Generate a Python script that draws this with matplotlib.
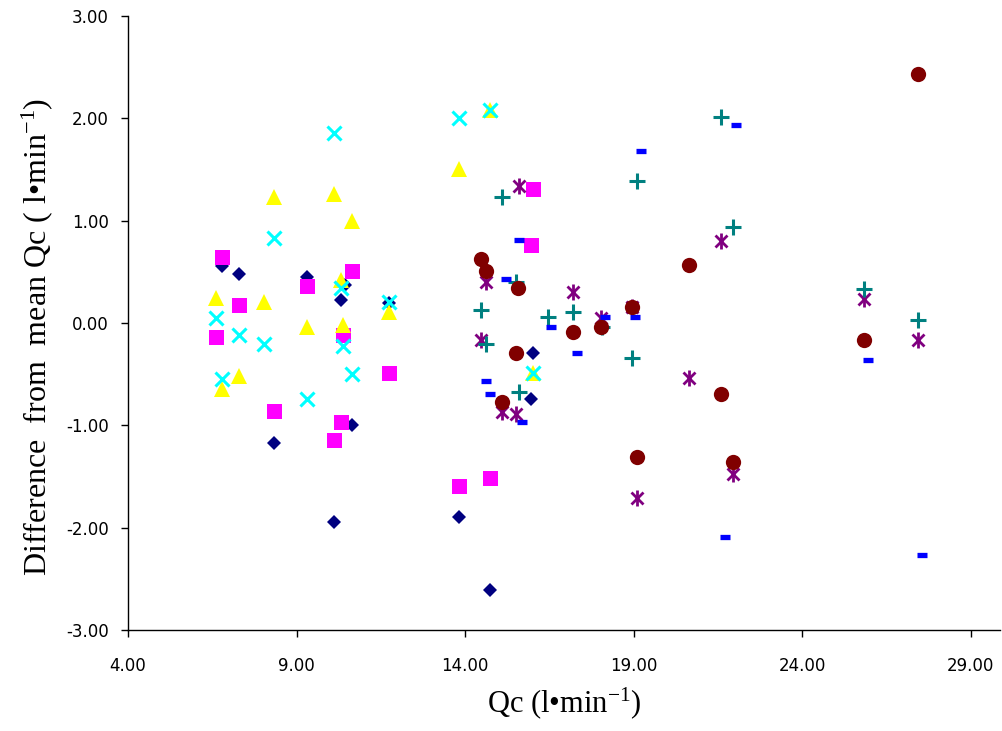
"""Qc difference from mean, scatter by subject group."""

import matplotlib

matplotlib.use("Agg")
import matplotlib.pyplot as plt

plt.rcParams["mathtext.fontset"] = "custom"
plt.rcParams["mathtext.rm"] = "Liberation Serif"
plt.rcParams["mathtext.it"] = "Liberation Serif:italic"

# navy diamonds
dia_x = [6.79, 7.30, 8.34, 9.31, 10.32, 10.45, 11.75, 10.65, 10.10, 13.83, 14.75, 16.02, 15.97]
dia_y = [0.56, 0.48, -1.17, 0.45, 0.23, 0.37, 0.20, -1.00, -1.94, -1.89, -2.61, -0.29, -0.74]

# magenta squares
sq_x = [6.79, 6.61, 7.30, 8.34, 9.31, 10.38, 10.65, 10.10, 10.32, 11.75, 13.83, 14.75, 16.02, 15.97]
sq_y = [0.65, -0.14, 0.18, -0.86, 0.36, -0.12, 0.51, -1.14, -0.97, -0.49, -1.59, -1.51, 1.31, 0.76]

# yellow triangles
tri_x = [6.61, 6.79, 7.30, 8.04, 8.34, 9.31, 10.10, 10.65, 10.32, 10.38, 11.75, 13.83, 14.75, 16.02]
tri_y = [0.25, -0.64, -0.52, 0.21, 1.23, -0.04, 1.26, 1.00, 0.42, -0.02, 0.11, 1.51, 2.08, -0.49]

# cyan crosses
crs_x = [6.61, 6.79, 7.30, 8.04, 8.34, 9.31, 10.10, 10.32, 10.38, 10.65, 11.75, 13.83, 14.75, 16.02]
crs_y = [0.05, -0.55, -0.12, -0.20, 0.83, -0.74, 1.86, 0.34, -0.22, -0.50, 0.21, 2.00, 2.08, -0.49]

# purple asterisks
ast_x = [14.48, 14.63, 15.61, 15.10, 15.52, 17.21, 18.04, 18.94, 19.11, 20.63, 21.58, 21.96, 25.82, 27.43]
ast_y = [-0.17, 0.40, 1.34, -0.87, -0.89, 0.30, 0.05, 0.16, -1.71, -0.54, 0.80, -1.47, 0.24, -0.17]

# teal plus
pls_x = [14.48, 14.63, 15.10, 15.52, 15.61, 16.47, 17.21, 18.07, 18.94, 19.11, 21.58, 21.96, 25.82, 27.43]
pls_y = [0.13, -0.20, 1.23, 0.40, -0.67, 0.06, 0.11, -0.04, -0.34, 1.39, 2.01, 0.94, 0.33, 0.03]

# blue dashes
dsh_x = [14.63, 14.75, 15.22, 15.61, 15.70, 16.56, 17.33, 18.16, 19.05, 19.23, 22.05, 21.70, 25.94, 27.55]
dsh_y = [-0.57, -0.69, 0.43, 0.81, -0.97, -0.04, -0.29, 0.06, 0.06, 1.68, 1.94, -2.09, -0.36, -2.27]

# dark red circles
cir_x = [14.48, 14.63, 15.58, 15.10, 15.52, 17.21, 18.04, 18.94, 19.11, 20.63, 21.58, 21.96, 25.82, 27.43]
cir_y = [0.63, 0.51, 0.34, -0.77, -0.29, -0.09, -0.04, 0.16, -1.31, 0.57, -0.69, -1.36, -0.17, 2.43]

xticks = [4, 9, 14, 19, 24, 29]
yticks = [-3, -2, -1, 0, 1, 2, 3]

fig = plt.figure(figsize=(10.02, 7.31), dpi=100)
ax = fig.add_axes([0.1277, 0.138, 0.870, 0.840])

ax.plot(dia_x, dia_y, "D", color="#000080", ms=7.2, mew=0, ls="none")
ax.plot(sq_x, sq_y, "s", color="#FF00FF", ms=10.8, mew=0, ls="none")
ax.plot(tri_x, tri_y, "^", color="#FFFF00", ms=11, mew=0, ls="none")
ax.plot(crs_x, crs_y, "x", color="#00FFFF", ms=9.5, mew=2.2, ls="none")
ax.plot(ast_x, ast_y, "x", color="#800080", ms=9, mew=2.0, ls="none")
ax.plot(ast_x, ast_y, "|", color="#800080", ms=11, mew=2.0, ls="none")
ax.plot(pls_x, pls_y, "+", color="#008080", ms=11, mew=2.2, ls="none")
ax.plot(dsh_x, dsh_y, "_", color="#0000FF", ms=7.5, mew=3.8, ls="none")
ax.plot(cir_x, cir_y, "o", color="#800000", ms=11, mew=0, ls="none")

ax.set_xlim(4, 29.86)
ax.set_ylim(-3, 3)
ax.set_xticks(xticks)
ax.set_xticklabels([f"{v:.2f}" for v in xticks], fontsize=12, family="DejaVu Sans")
ax.set_yticks(yticks)
ax.set_yticklabels([f"{v:.2f}" for v in yticks], fontsize=12, family="DejaVu Sans")
ax.tick_params(direction="out", length=5, width=1)
ax.tick_params(axis="y", pad=9)
ax.tick_params(axis="x", pad=14)

for s in ["top", "right"]:
    ax.spines[s].set_visible(False)
for s in ["left", "bottom"]:
    ax.spines[s].set_linewidth(1)

ax.set_ylabel("Difference  from  mean Qc ( l•min$^{-1}$)", fontsize=23,
              family="Liberation Serif", labelpad=8)
ax.yaxis.label.set_y(0.477)
ax.set_xlabel("Qc (l•min$^{-1}$)", fontsize=22, family="Liberation Serif", labelpad=8)

fig.savefig("out.png", dpi=100)
